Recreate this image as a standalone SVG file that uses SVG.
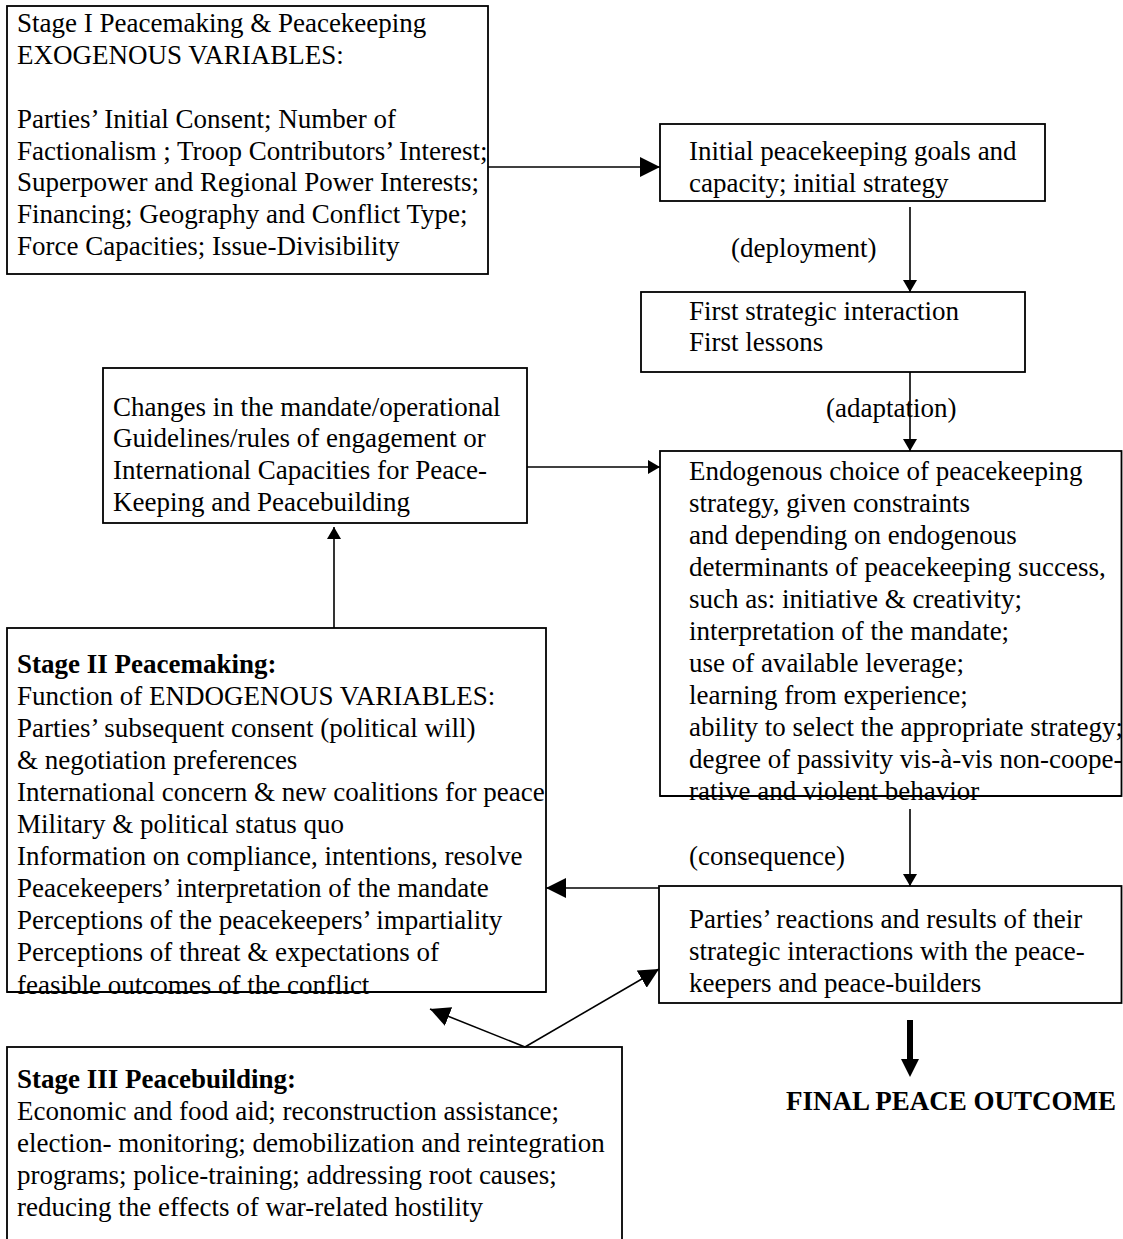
<svg xmlns="http://www.w3.org/2000/svg" width="1123" height="1239" viewBox="0 0 1123 1239">
<style>
  .box { fill: #fff; stroke: #000; stroke-width: 1.8; }
  .t { font-family: "Liberation Serif", "Times New Roman", serif; font-size: 27px; fill: #000; }
  .b { font-weight: bold; }
  .c { stroke: #000; stroke-width: 1.6; fill: none; }
</style>
<defs>
  <marker id="big" markerUnits="userSpaceOnUse" markerWidth="20" markerHeight="20" refX="20" refY="10" orient="auto">
    <path d="M0,0 L20,10 L0,20 z" fill="#000"/>
  </marker>
  <marker id="small" markerUnits="userSpaceOnUse" markerWidth="12" markerHeight="14" refX="12" refY="7" orient="auto">
    <path d="M0,0 L12,7 L0,14 z" fill="#000"/>
  </marker>
  <marker id="thick" markerUnits="userSpaceOnUse" markerWidth="18" markerHeight="18" refX="18" refY="9" orient="auto">
    <path d="M0,0 L18,9 L0,18 z" fill="#000"/>
  </marker>
</defs>
<rect width="1123" height="1239" fill="#fff"/>

<g id="stage1">
  <rect class="box" x="7" y="6" width="481" height="268"/>
  <text class="t">
    <tspan x="17" y="32">Stage I Peacemaking &amp; Peacekeeping</tspan>
    <tspan x="17" y="64">EXOGENOUS VARIABLES:</tspan>
    <tspan x="17" y="128">Parties’ Initial Consent; Number of</tspan>
    <tspan x="17" y="160">Factionalism ; Troop Contributors’ Interest;</tspan>
    <tspan x="17" y="191">Superpower and Regional Power Interests;</tspan>
    <tspan x="17" y="223">Financing; Geography and Conflict Type;</tspan>
    <tspan x="17" y="255">Force Capacities; Issue-Divisibility</tspan>
  </text>
</g>

<g id="initial">
  <rect class="box" x="660" y="124" width="385" height="77"/>
  <text class="t">
    <tspan x="689" y="160">Initial peacekeeping goals and</tspan>
    <tspan x="689" y="192">capacity; initial strategy</tspan>
  </text>
</g>

<g id="first">
  <rect class="box" x="641" y="292" width="384" height="80"/>
  <text class="t">
    <tspan x="689" y="320">First strategic interaction</tspan>
    <tspan x="689" y="351">First lessons</tspan>
  </text>
</g>

<g id="changes">
  <rect class="box" x="103" y="368" width="424" height="155"/>
  <text class="t">
    <tspan x="113" y="416">Changes in the mandate/operational</tspan>
    <tspan x="113" y="447">Guidelines/rules of engagement or</tspan>
    <tspan x="113" y="479">International Capacities for Peace-</tspan>
    <tspan x="113" y="511">Keeping and Peacebuilding</tspan>
  </text>
</g>

<g id="endogenous">
  <rect class="box" x="660" y="451" width="461.5" height="345"/>
  <text class="t">
    <tspan x="689" y="480">Endogenous choice of peacekeeping</tspan>
    <tspan x="689" y="512">strategy, given constraints</tspan>
    <tspan x="689" y="544">and depending on endogenous</tspan>
    <tspan x="689" y="576">determinants of peacekeeping success,</tspan>
    <tspan x="689" y="608">such as: initiative &amp; creativity;</tspan>
    <tspan x="689" y="640">interpretation of the mandate;</tspan>
    <tspan x="689" y="672">use of available leverage;</tspan>
    <tspan x="689" y="704">learning from experience;</tspan>
    <tspan x="689" y="736">ability to select the appropriate strategy;</tspan>
    <tspan x="689" y="768">degree of passivity vis-à-vis non-coope-</tspan>
    <tspan x="689" y="800">rative and violent behavior</tspan>
  </text>
  <line x1="660" y1="796" x2="1121.5" y2="796" stroke="#000" stroke-width="1.8"/>
</g>

<g id="stage2">
  <rect class="box" x="7" y="628" width="539" height="364"/>
  <text class="t">
    <tspan class="b" x="17" y="673">Stage II Peacemaking:</tspan>
    <tspan x="17" y="705">Function of ENDOGENOUS VARIABLES:</tspan>
    <tspan x="17" y="737">Parties’ subsequent consent (political will)</tspan>
    <tspan x="17" y="769">&amp; negotiation preferences</tspan>
    <tspan x="17" y="801">International concern &amp; new coalitions for peace</tspan>
    <tspan x="17" y="833">Military &amp; political status quo</tspan>
    <tspan x="17" y="865">Information on compliance, intentions, resolve</tspan>
    <tspan x="17" y="897">Peacekeepers’ interpretation of the mandate</tspan>
    <tspan x="17" y="929">Perceptions of the peacekeepers’ impartiality</tspan>
    <tspan x="17" y="961">Perceptions of threat &amp; expectations of</tspan>
    <tspan x="17" y="994">feasible outcomes of the conflict</tspan>
  </text>
  <line x1="7" y1="992" x2="546" y2="992" stroke="#000" stroke-width="1.8"/>
</g>

<g id="reactions">
  <rect class="box" x="659" y="886" width="462.5" height="117"/>
  <text class="t">
    <tspan x="689" y="928">Parties’ reactions and results of their</tspan>
    <tspan x="689" y="960">strategic interactions with the peace-</tspan>
    <tspan x="689" y="992">keepers and peace-builders</tspan>
  </text>
</g>

<g id="stage3">
  <rect class="box" x="7" y="1047" width="615" height="210"/>
  <text class="t">
    <tspan class="b" x="17" y="1088">Stage III Peacebuilding:</tspan>
    <tspan x="17" y="1120">Economic and food aid; reconstruction assistance;</tspan>
    <tspan x="17" y="1152">election- monitoring; demobilization and reintegration</tspan>
    <tspan x="17" y="1184">programs; police-training; addressing root causes;</tspan>
    <tspan x="17" y="1216">reducing the effects of war-related hostility</tspan>
  </text>
</g>

<g id="final">
  <text class="t b" x="786" y="1110">FINAL PEACE OUTCOME</text>
</g>

<g id="connectors">
  <line class="c" x1="488" y1="167" x2="660" y2="167" marker-end="url(#big)"/>
  <line class="c" x1="910" y1="207" x2="910" y2="292" marker-end="url(#small)"/>
  <text class="t" x="731" y="257">(deployment)</text>
  <line class="c" x1="910" y1="372" x2="910" y2="451" marker-end="url(#small)"/>
  <text class="t" x="826" y="417">(adaptation)</text>
  <line class="c" x1="527" y1="467" x2="660" y2="467" marker-end="url(#small)"/>
  <line class="c" x1="334" y1="628" x2="334" y2="527" marker-end="url(#small)"/>
  <line class="c" x1="910" y1="809" x2="910" y2="886" marker-end="url(#small)"/>
  <text class="t" x="689" y="865">(consequence)</text>
  <line class="c" x1="659" y1="888" x2="546" y2="888" marker-end="url(#big)"/>
  <line class="c" x1="525" y1="1047" x2="430" y2="1009" marker-end="url(#big)"/>
  <line class="c" x1="525" y1="1047" x2="659" y2="969" marker-end="url(#big)"/>
  <line x1="910" y1="1020" x2="910" y2="1062" stroke="#000" stroke-width="6"/>
  <path d="M901,1059 L919,1059 L910,1077 z" fill="#000"/>
</g>
</svg>
